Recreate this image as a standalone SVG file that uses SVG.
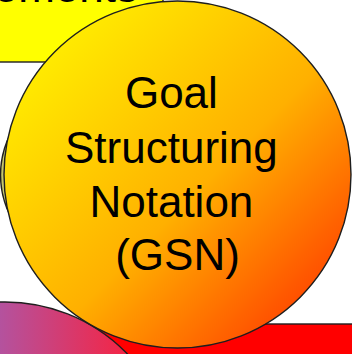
<svg xmlns="http://www.w3.org/2000/svg" width="352" height="354" viewBox="0 0 352 354">
  <style>
    .edge { stroke: #1e1e1e; stroke-width: 1.4; }
    .label { font-family: "Liberation Sans", Arial, sans-serif; font-size: 44px; fill: #000; }
  </style>
  <defs>
    <linearGradient id="goalFill" x1="0" y1="0" x2="1" y2="1">
      <stop offset="0" stop-color="#ffff00"/>
      <stop offset="0.55" stop-color="#ffb000"/>
      <stop offset="1" stop-color="#ff2200"/>
    </linearGradient>
    <linearGradient id="pinkFill" gradientUnits="userSpaceOnUse" x1="0" y1="0" x2="135" y2="0">
      <stop offset="0" stop-color="#b4529e"/>
      <stop offset="1" stop-color="#f8223f"/>
    </linearGradient>
    <linearGradient id="oliveFill" gradientUnits="userSpaceOnUse" x1="0" y1="0" x2="6" y2="0">
      <stop offset="0" stop-color="#b8b860"/>
      <stop offset="1" stop-color="#d8d878"/>
    </linearGradient>
  </defs>
  <rect width="352" height="354" fill="#ffffff"/>

  <!-- neighbouring nodes, partly off-canvas -->
  <g id="node-elements">
    <rect x="-10" y="-80" width="173" height="142" fill="#ffff00" class="edge"/>
    <text class="label" x="138" y="2" text-anchor="end">Elements</text>
  </g>
  <g id="node-left">
    <circle cx="90.5" cy="175" r="90" fill="url(#oliveFill)" class="edge"/>
  </g>
  <g id="node-red">
    <rect x="80" y="324" width="300" height="60" fill="#ff0000" class="edge"/>
  </g>
  <g id="node-pink">
    <circle cx="5" cy="472" r="170" fill="url(#pinkFill)" class="edge"/>
  </g>

  <g id="connectors"/>

  <!-- central node -->
  <g id="node-gsn">
    <circle cx="177.5" cy="174.5" r="173.5" fill="url(#goalFill)" class="edge"/>
    <text class="label" text-anchor="middle">
      <tspan x="177.5" y="108">Goal</tspan>
      <tspan x="177.5" y="163">Structuring</tspan>
      <tspan x="177.5" y="217">Notation</tspan>
      <tspan x="177.5" y="270">(GSN)</tspan>
    </text>
  </g>
</svg>
